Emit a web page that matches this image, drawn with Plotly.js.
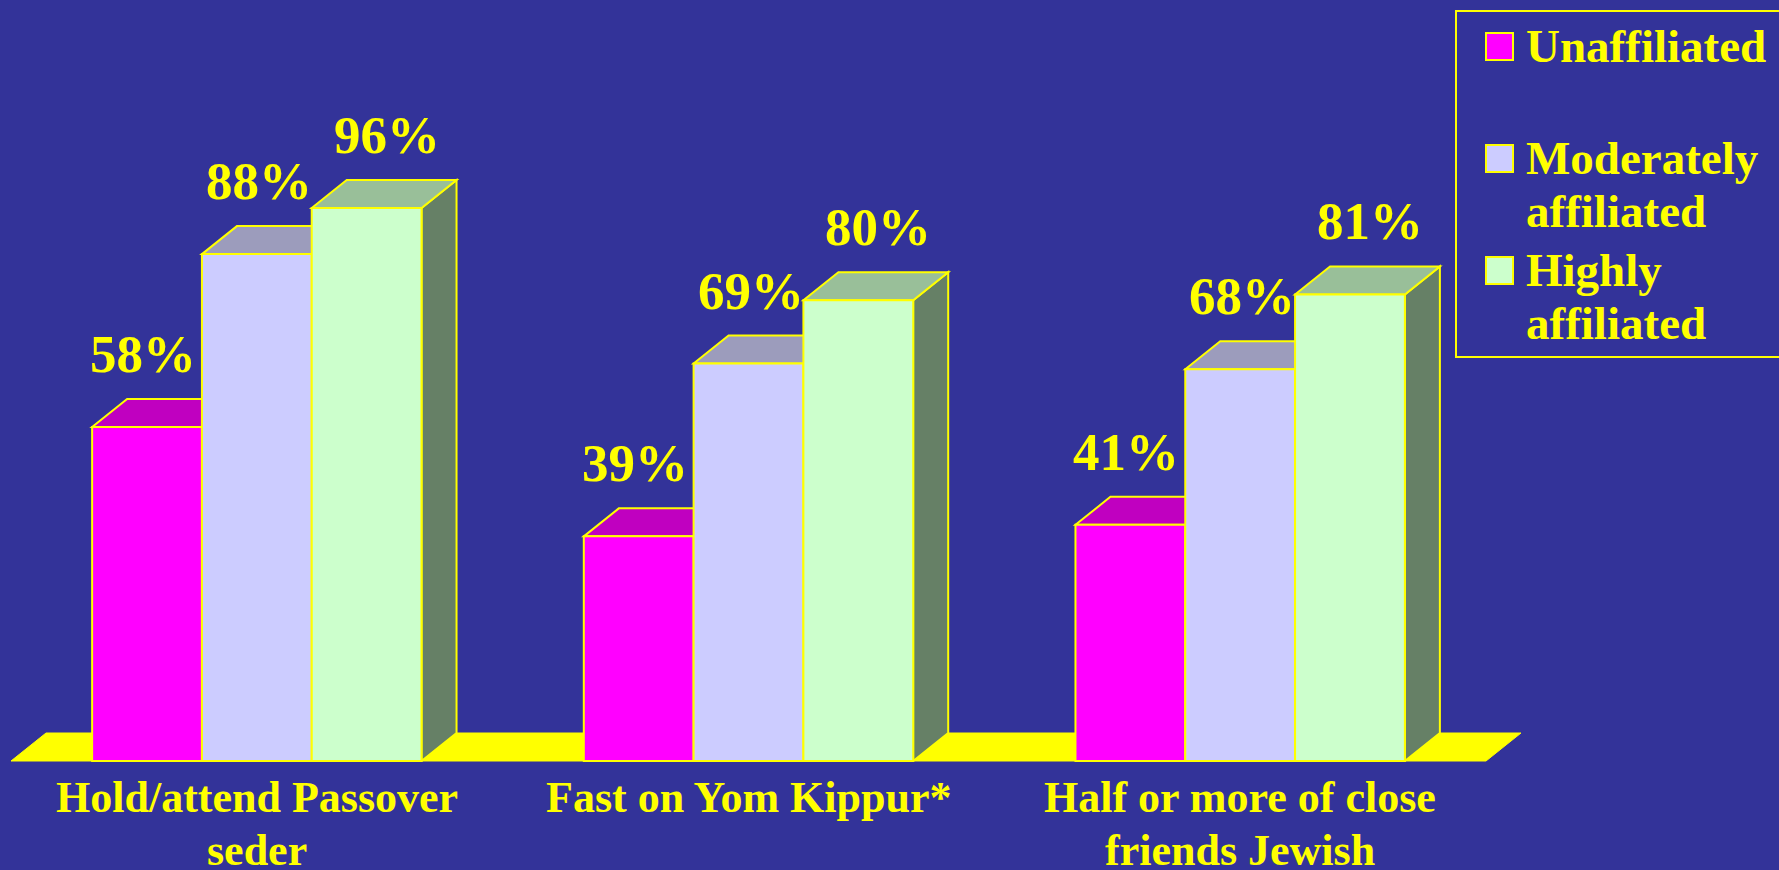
<!DOCTYPE html>
<html>
<head>
<meta charset="utf-8">
<script src="https://cdn.plot.ly/plotly-3.0.1.min.js"></script>
<style>
  html, body { margin: 0; padding: 0; background: #333399; }
  #chart { width: 1779px; height: 870px; }
</style>
</head>
<body>
<div id="chart"></div>
<script>
// ---------------- data ----------------
const categories = ["Hold/attend Passover<br>seder", "Fast on Yom Kippur*", "Half or more of close<br>friends Jewish"];
const seriesNames = ["Unaffiliated", "Moderately<br>affiliated", "Highly<br>affiliated"];
const unaffiliated = [58, 39, 41];
const moderately = [88, 69, 68];
const highly = [96, 80, 81];

// ---------------- styling ----------------
const BG = "#333399";
const YELLOW = "#FFFF00";
const FONT = "Liberation Serif, Times New Roman, serif";
const frontColors = ["#FF00FF", "#CCCCFF", "#CCFFCC"];
const topColors = ["#C000C0", "#9C9CBC", "#99BF99"];
const sideColors = ["#A000A0", "#7A7A9A", "#668066"];
const labelXShift = [-4, 2, 20];

// geometry (pixels)
const W = 1779, H = 870;
const MARGIN_B = 108;
const PLOT_H = H - MARGIN_B;       // plot area height (t = 0)
const CAT_PX = 491.67;             // width of one category
const CAT_LEFT_PX = 11;            // left edge of first category
const BASE_PX = 761;               // pixel row of value 0
const PCT_PX = 5.76;               // pixels per percent
const DEPTH_X_PX = 35, DEPTH_Y_PX = 28;
const BARGAP = 0.33;

const xMin = -0.5 - CAT_LEFT_PX / CAT_PX;
const xMax = xMin + W / CAT_PX;
const yMin = -(PLOT_H - BASE_PX) / PCT_PX;
const yMax = BASE_PX / PCT_PX;
const DX = DEPTH_X_PX / CAT_PX;
const DY = DEPTH_Y_PX / PCT_PX;
const barW = (1 - BARGAP) / 3;

const series = [unaffiliated, moderately, highly];
const xs = categories.map((c, i) => i);

const traces = series.map((vals, k) => ({
  type: "bar",
  x: xs,
  y: vals,
  name: seriesNames[k],
  marker: { color: frontColors[k], line: { color: YELLOW, width: 2 } },
  hoverinfo: "skip",
  showlegend: false
}));

const shapes = [];
// floor
shapes.push({
  type: "path", xref: "x", yref: "y", layer: "below",
  path: `M ${-0.5},0 L ${-0.5 + DX},${DY} L ${2.5 + DX},${DY} L ${2.5},0 Z`,
  fillcolor: YELLOW, line: { color: YELLOW, width: 1 }
});
// top and side faces
series.forEach((vals, k) => {
  vals.forEach((v, i) => {
    const left = i + (k - 1.5) * barW;
    const right = i + (k - 0.5) * barW;
    shapes.push({
      type: "path", xref: "x", yref: "y", layer: "below",
      path: `M ${right},0 L ${right + DX},${DY} L ${right + DX},${v + DY} L ${right},${v} Z`,
      fillcolor: sideColors[k], line: { color: YELLOW, width: 2 }
    });
    shapes.push({
      type: "path", xref: "x", yref: "y", layer: "below",
      path: `M ${left},${v} L ${left + DX},${v + DY} L ${right + DX},${v + DY} L ${right},${v} Z`,
      fillcolor: topColors[k], line: { color: YELLOW, width: 2 }
    });
  });
});

const px2xp = px => px / W;
const px2yp = py => 1 - py / PLOT_H;

const annotations = [];
// value labels
series.forEach((vals, k) => {
  vals.forEach((v, i) => {
    annotations.push({
      xref: "x", yref: "y", x: i + (k - 1) * barW, y: v,
      text: v + "%", showarrow: false,
      xanchor: "center", yanchor: "bottom",
      xshift: labelXShift[k], yshift: 42,
      font: { family: FONT, size: 53, color: YELLOW, weight: "bold" }
    });
  });
});

// category labels (one annotation per line, placed under each category)
const CAT_FONT = 44;
categories.forEach((cat, i) => {
  cat.split("<br>").forEach((line, j) => {
    const baseline = 813 + 53 * j;
    annotations.push({
      xref: "x", yref: "paper", x: i, y: px2yp(baseline + CAT_FONT * 0.216 + 1),
      xanchor: "center", yanchor: "bottom",
      text: line, showarrow: false,
      font: { family: FONT, size: CAT_FONT, color: YELLOW, weight: "bold" }
    });
  });
});

// custom legend
const LEG_FONT = 47;
shapes.push({
  type: "rect", xref: "paper", yref: "paper", layer: "above",
  x0: px2xp(1456), x1: px2xp(1790), y0: px2yp(11), y1: px2yp(357),
  line: { color: YELLOW, width: 2 }, fillcolor: "rgba(0,0,0,0)"
});
seriesNames.forEach((name, k) => {
  const base = 63 + 112 * k;
  shapes.push({
    type: "rect", xref: "paper", yref: "paper", layer: "above",
    x0: px2xp(1486), x1: px2xp(1513), y0: px2yp(base - 30), y1: px2yp(base - 3),
    fillcolor: frontColors[k], line: { color: YELLOW, width: 2 }
  });
  name.split("<br>").forEach((line, j) => {
    const baseline = base + 53 * j;
    annotations.push({
      xref: "paper", yref: "paper",
      x: px2xp(1524), y: px2yp(baseline + LEG_FONT * 0.216 + 1),
      xanchor: "left", yanchor: "bottom",
      text: line, showarrow: false,
      font: { family: FONT, size: LEG_FONT, color: YELLOW, weight: "bold" }
    });
  });
});

const layout = {
  width: W, height: H,
  margin: { l: 0, r: 0, t: 0, b: MARGIN_B, pad: 0 },
  paper_bgcolor: BG, plot_bgcolor: BG,
  barmode: "group", bargap: BARGAP, bargroupgap: 0,
  showlegend: false,
  xaxis: {
    range: [xMin, xMax], tickmode: "array", tickvals: xs,
    showticklabels: false,
    showgrid: false, zeroline: false, showline: false, ticks: "",
    fixedrange: true
  },
  yaxis: { range: [yMin, yMax], visible: false, fixedrange: true },
  shapes: shapes,
  annotations: annotations
};

Plotly.newPlot("chart", traces, layout, { displayModeBar: false, staticPlot: true });
</script>
</body>
</html>
